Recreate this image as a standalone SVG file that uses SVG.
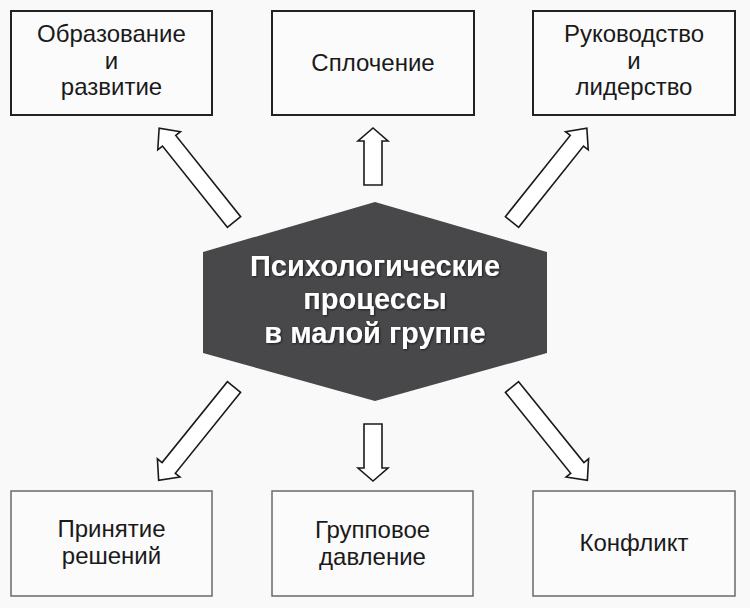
<svg xmlns="http://www.w3.org/2000/svg" width="750" height="608" viewBox="0 0 750 608">
  <style>
    .box { fill: #fbfbfb; stroke: #222; stroke-width: 2; }
    .box2 { fill: #fbfbfb; stroke: #6a6a6a; stroke-width: 1.5; }
    .lbl { font-family: "Liberation Sans", Arial, sans-serif; font-size: 24px; fill: #1a1a1a; text-anchor: middle; }
    .title { font-family: "Liberation Sans", Arial, sans-serif; font-size: 29px; font-weight: bold; fill: #ffffff; text-anchor: middle; }
    .arrow { fill: #ffffff; stroke: #1a1a1a; stroke-width: 1.6; stroke-linejoin: miter; }
  </style>
  <defs>
    <polygon id="diag" points="0,-8.5 104,-8.5 104,-14.5 120,0 104,14.5 104,8.5 0,8.5"/>
    <polygon id="vert" points="0,-9 44,-9 44,-15 57,0 44,15 44,9 0,9"/>
    <filter id="sh" x="-10%" y="-10%" width="120%" height="130%">
      <feDropShadow dx="1" dy="1" stdDeviation="0.8" flood-color="#000" flood-opacity="0.6"/>
    </filter>
  </defs>
  <rect x="0" y="0" width="750" height="608" fill="#f9f9f9"/>

  <g id="connectors">
    <use href="#diag" class="arrow" transform="translate(234,222) rotate(-128.6)"/>
    <use href="#vert" class="arrow" transform="translate(373,185) rotate(-90)"/>
    <use href="#diag" class="arrow" transform="translate(512,222) rotate(-51.4)"/>
    <use href="#diag" class="arrow" transform="translate(234,387) rotate(128.9)"/>
    <use href="#vert" class="arrow" transform="translate(373,424) rotate(90)"/>
    <use href="#diag" class="arrow" transform="translate(512,387) rotate(51.1)"/>
  </g>

  <g id="center">
    <polygon points="375,202 547,252 547,353 375,401 203,353 203,252" fill="#48484a"/>
    <g filter="url(#sh)">
      <text class="title" x="375" y="276">Психологические</text>
      <text class="title" x="375" y="309">процессы</text>
      <text class="title" x="375" y="343">в малой группе</text>
    </g>
  </g>

  <g id="node-education">
    <rect class="box" x="11" y="11" width="201" height="104"/>
    <text class="lbl" x="111.5" y="42">Образование</text>
    <text class="lbl" x="111.5" y="68.5">и</text>
    <text class="lbl" x="111.5" y="95">развитие</text>
  </g>

  <g id="node-cohesion">
    <rect class="box" x="272" y="11" width="202" height="104"/>
    <text class="lbl" x="373" y="71">Сплочение</text>
  </g>

  <g id="node-leadership">
    <rect class="box" x="533" y="11" width="202" height="104"/>
    <text class="lbl" x="634" y="42">Руководство</text>
    <text class="lbl" x="634" y="68.5">и</text>
    <text class="lbl" x="634" y="95">лидерство</text>
  </g>

  <g id="node-decision">
    <rect class="box2" x="11" y="491" width="201" height="105"/>
    <text class="lbl" x="111.5" y="537">Принятие</text>
    <text class="lbl" x="111.5" y="564">решений</text>
  </g>

  <g id="node-pressure">
    <rect class="box2" x="272" y="491" width="201" height="105"/>
    <text class="lbl" x="372.5" y="538">Групповое</text>
    <text class="lbl" x="372.5" y="565">давление</text>
  </g>

  <g id="node-conflict">
    <rect class="box2" x="533" y="491" width="202" height="105"/>
    <text class="lbl" x="634" y="551">Конфликт</text>
  </g>
</svg>
